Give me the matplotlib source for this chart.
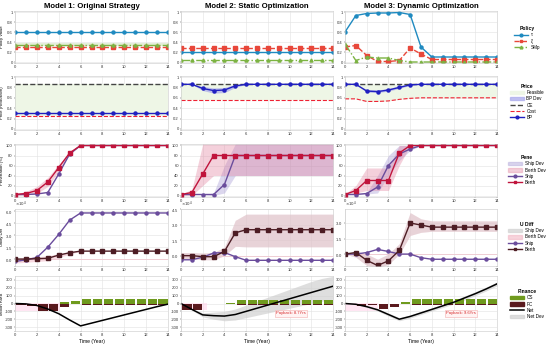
import matplotlib
matplotlib.use('Agg')
import matplotlib.pyplot as plt
import numpy as np
from matplotlib.lines import Line2D
from matplotlib.patches import Patch
from matplotlib.ticker import ScalarFormatter, FixedLocator, MaxNLocator

plt.rcParams['font.family'] = ['Liberation Sans', 'DejaVu Sans']
plt.rcParams['axes.unicode_minus'] = False

years = list(range(15))
bar_years = list(range(14))
titles = ["Model 1: Original Strategy", "Model 2: Static Optimization", "Model 3: Dynamic Optimization"]
row_ylabels = ["Policy Value", "Price (RMB/kWh)", "Penetration (%)", "Utility Diff", "Million RMB"]
x_label = "Time (Year)"

# ---------------- Row 1: policy values ----------------
tau_m1 = [0.6] * 15
xi_m1 = [0.3] * 15
smp_m1 = [0.35] * 15
tau_m2 = [0.2] * 15
xi_m2 = [0.28] * 15
smp_m2 = [0.05] * 15
tau_m3 = [0.6, 0.93, 0.97, 0.98, 0.98, 0.99, 0.95, 0.3, 0.1, 0.1, 0.1, 0.1, 0.1, 0.1, 0.1]
xi_m3 = [0.3, 0.33, 0.13, 0.01, 0.01, 0.03, 0.28, 0.16, 0.05, 0.05, 0.05, 0.05, 0.05, 0.05, 0.05]
smp_m3 = [0.36, 0.03, 0.1, 0.08, 0.08, 0.03, 0.0, 0.0, 0.0, 0.0, 0.0, 0.0, 0.0, 0.0, 0.0]

# ---------------- Row 2: price ----------------
ce_price = [0.87] * 15
bp_m1 = [0.3] * 15
cost_m1 = [0.25] * 15
bp_m2 = [0.86, 0.86, 0.78, 0.74, 0.75, 0.83, 0.86, 0.86, 0.86, 0.86, 0.86, 0.86, 0.86, 0.86, 0.86]
bp_lo_m2 = [0.86, 0.86, 0.74, 0.69, 0.70, 0.80, 0.86, 0.86, 0.86, 0.86, 0.86, 0.86, 0.86, 0.86, 0.86]
bp_hi_m2 = [0.86, 0.86, 0.82, 0.79, 0.80, 0.86, 0.86, 0.86, 0.86, 0.86, 0.86, 0.86, 0.86, 0.86, 0.86]
cost_m2 = [0.55] * 15
bp_m3 = [0.86, 0.86, 0.73, 0.72, 0.75, 0.80, 0.85, 0.86, 0.86, 0.86, 0.86, 0.86, 0.86, 0.86, 0.86]
bp_lo_m3 = [0.86, 0.86, 0.71, 0.70, 0.73, 0.78, 0.84, 0.86, 0.86, 0.86, 0.86, 0.86, 0.86, 0.86, 0.86]
bp_hi_m3 = [0.86, 0.86, 0.76, 0.75, 0.78, 0.83, 0.86, 0.86, 0.86, 0.86, 0.86, 0.86, 0.86, 0.86, 0.86]
cost_m3 = [0.58, 0.58, 0.53, 0.53, 0.54, 0.57, 0.59, 0.6, 0.6, 0.6, 0.6, 0.6, 0.6, 0.6, 0.6]

# ---------------- Row 3: penetration (%) ----------------
ship_pen_m1 = [2, 2, 3, 6, 43, 83, 100, 100, 100, 100, 100, 100, 100, 100, 100]
berth_pen_m1 = [2, 4, 10, 27, 56, 85, 100, 100, 100, 100, 100, 100, 100, 100, 100]
berth_lo_m1 = [0, 1, 4, 18, 48, 82, 100, 100, 100, 100, 100, 100, 100, 100, 100]
berth_hi_m1 = [3, 8, 18, 36, 62, 88, 100, 100, 100, 100, 100, 100, 100, 100, 100]
ship_pen_m2 = [2, 2, 2, 2, 22, 80, 80, 80, 80, 80, 80, 80, 80, 80, 80]
ship_lo_m2 = [2, 2, 2, 0, 5, 40, 40, 40, 40, 40, 40, 40, 40, 40, 40]
ship_hi_m2 = [2, 2, 2, 5, 60, 103, 103, 103, 103, 103, 103, 103, 103, 103, 103]
berth_pen_m2 = [2, 6, 43, 80, 80, 80, 80, 80, 80, 80, 80, 80, 80, 80, 80]
berth_lo_m2 = [0, 0, 20, 40, 40, 40, 40, 40, 40, 40, 40, 40, 40, 40, 40]
berth_hi_m2 = [3, 12, 103, 103, 103, 103, 103, 103, 103, 103, 103, 103, 103, 103, 103]
ship_pen_m3 = [2, 2, 4, 17, 60, 83, 93, 100, 100, 100, 100, 100, 100, 100, 100]
ship_lo_m3 = [2, 2, 3, 5, 40, 70, 90, 100, 100, 100, 100, 100, 100, 100, 100]
ship_hi_m3 = [2, 2, 6, 40, 80, 100, 100, 100, 100, 100, 100, 100, 100, 100, 100]
berth_pen_m3 = [2, 10, 30, 30, 30, 85, 100, 100, 100, 100, 100, 100, 100, 100, 100]
berth_lo_m3 = [1, 5, 10, 10, 10, 60, 100, 100, 100, 100, 100, 100, 100, 100, 100]
berth_hi_m3 = [3, 20, 55, 55, 55, 100, 100, 100, 100, 100, 100, 100, 100, 100, 100]

# ---------------- Row 4: utility difference (x10^4) ----------------
u_scale = 1e4
ship_u_m1 = [-0.3, -0.1, 0.2, 1.5, 3.1, 4.9, 5.8, 5.8, 5.8, 5.8, 5.8, 5.8, 5.8, 5.8, 5.8]
berth_u_m1 = [0.0, 0.0, 0.05, 0.1, 0.5, 0.8, 1.0, 1.0, 1.0, 1.0, 1.0, 1.0, 1.0, 1.0, 1.0]
berth_u_lo_m1 = [-0.5, -0.4, -0.3, -0.2, 0.2, 0.6, 1.0, 1.0, 1.0, 1.0, 1.0, 1.0, 1.0, 1.0, 1.0]
berth_u_hi_m1 = [0.1, 0.2, 0.3, 0.4, 0.7, 0.9, 1.0, 1.0, 1.0, 1.0, 1.0, 1.0, 1.0, 1.0, 1.0]
ship_u_m2 = [-0.4, -0.4, -0.15, 0.25, 0.3, -0.1, -0.45, -0.45, -0.45, -0.45, -0.45, -0.45, -0.45, -0.45, -0.45]
berth_u_m2 = [0.0, 0.0, -0.1, -0.1, 0.4, 2.2, 2.5, 2.5, 2.5, 2.5, 2.5, 2.5, 2.5, 2.5, 2.5]
berth_u_lo_m2 = [-0.3, -0.3, -0.4, -0.4, 0.0, 0.9, 0.85, 0.85, 0.85, 0.85, 0.85, 0.85, 0.85, 0.85, 0.85]
berth_u_hi_m2 = [0.3, 0.3, 0.25, 0.3, 0.8, 3.4, 4.0, 4.0, 4.0, 4.0, 4.0, 4.0, 4.0, 4.0, 4.0]
ship_u_m3 = [0.0, 0.0, 0.15, 0.45, 0.25, 0.0, 0.0, -0.35, -0.5, -0.5, -0.5, -0.5, -0.5, -0.5, -0.5]
berth_u_m3 = [0.0, 0.15, -0.6, -1.1, -0.65, 0.35, 3.0, 2.8, 2.6, 2.6, 2.6, 2.6, 2.6, 2.6, 2.6]
berth_u_lo_m3 = [0.0, -0.3, -1.1, -1.3, -1.0, 0.0, 1.8, 2.1, 2.2, 2.2, 2.2, 2.2, 2.2, 2.2, 2.2]
berth_u_hi_m3 = [0.0, 0.3, 0.0, -0.5, 0.0, 1.0, 4.0, 3.4, 3.2, 3.2, 3.2, 3.2, 3.2, 3.2, 3.2]
u_ylims = [(-0.87, 6.3), (-1.0, 4.5), (-1.15, 4.35)]

# ---------------- Row 5: finance (million RMB) ----------------
cs_m1 = [0, 0, 0, 0, 20, 37, 58, 58, 58, 58, 58, 58, 58, 58]
fc_m1 = [-15, -35, -95, -95, -50, -12, -17, -17, -17, -17, -17, -17, -17, -17]
net_m1 = [0, -5, -25, -70, -130, -210, -285, -250, -215, -180, -145, -110, -75, -40, -8]
cs_m2 = [0, 0, 0, 0, 12, 50, 50, 50, 50, 50, 50, 50, 50, 50]
fc_m2 = [-85, -85, -5, -5, -3, -15, -15, -15, -15, -15, -15, -15, -15, -15]
net_m2 = [0, -75, -145, -155, -160, -140, -100, -60, -20, 20, 60, 100, 140, 180, 220]
net_lo_m2 = [0, -85, -170, -200, -220, -210, -180, -150, -120, -90, -60, -30, 0, 30, 55]
net_hi_m2 = [0, -65, -120, -110, -100, -70, -20, 30, 80, 130, 180, 230, 280, 320, 345]
cs_m3 = [0, 0, 0, 0, 0, 18, 54, 54, 54, 54, 54, 54, 54, 54]
fc_m3 = [-5, -30, -25, -70, -50, -8, -15, -15, -15, -15, -15, -15, -15, -15]
net_m3 = [0, -10, -40, -80, -140, -200, -165, -120, -75, -30, 15, 70, 125, 185, 250]
net_lo_m3 = [0, -15, -50, -95, -160, -220, -185, -140, -95, -52, -8, 45, 100, 160, 225]
net_hi_m3 = [0, -5, -30, -65, -120, -180, -145, -100, -55, -8, 38, 95, 150, 210, 275]
payback_labels = [None, "Payback: 8.7Yrs", "Payback: 9.6Yrs"]

# ---------------- layout ----------------
W, H = 550, 345
fig = plt.figure(figsize=(5.5, 3.45), dpi=100)
cols = [(15, 168), (181, 333), (345, 497)]
rows = [(11, 63), (76, 130), (144, 197), (209, 266), (276, 331)]

tau_c, xi_c, smp_c = '#1f8ac0', '#e8473a', '#7cb342'
bp_c, ce_c, cost_c = '#2020c0', '#444444', '#ee2233'
feas_c, bpdev_c = '#eef6e6', '#a8a8ec'
ship_c, berth_c3, berth_c4 = '#6a4c9c', '#c0143c', '#4d1d24'
shipdev_c, berthdev_c = '#9b8fd0', '#e07a98'
udev_ship_c, udev_berth_c = '#cccccc', '#f2b8c6'
cs_c, fc_c, netdev_c = '#6f9a1e', '#5a1a1e', '#d0d0d0'
FS = 3.0
YL_X = -0.072


def add_ax(r, c):
    x0, x1 = cols[c]
    y0, y1 = rows[r]
    ax = fig.add_axes([x0 / W, 1 - y1 / H, (x1 - x0) / W, (y1 - y0) / H])
    ax.set_xlim(0, 14)
    ax.set_xticks(range(0, 15, 2))
    ax.grid(True, color='#e2e2e2', lw=0.4)
    ax.set_axisbelow(True)
    ax.tick_params(labelsize=FS, length=1.0, width=0.3, pad=0.6, colors='#333333')
    for s in ax.spines.values():
        s.set_color('#c8c8c8')
        s.set_linewidth(0.4)
    return ax


def set_ylab(ax, text):
    ax.set_ylabel(text, fontsize=3.1)
    ax.yaxis.set_label_coords(YL_X, 0.5)


def frac_labels(ax):
    ax.set_ylim(-0.02, 1.02)
    ax.yaxis.set_major_locator(FixedLocator([0, 0.2, 0.4, 0.6, 0.8, 1.0]))
    ax.set_yticklabels(['0', '0.2', '0.4', '0.6', '0.8', '1'])


mk = dict(markersize=2.2, lw=1.0)

# Row 1
pol = [(tau_m1, xi_m1, smp_m1), (tau_m2, xi_m2, smp_m2), (tau_m3, xi_m3, smp_m3)]
for c, (tau, xi, smp) in enumerate(pol):
    ax = add_ax(0, c)
    if c == 0:
        ax.fill_between(years, np.array(smp) - 0.03, np.array(smp) + 0.03, color=smp_c, alpha=0.2, lw=0)
    ax.plot(years, tau, color=tau_c, marker='o', **mk)
    ax.plot(years, xi, color=xi_c, ls='--', marker='s', **mk)
    ax.plot(years, smp, color=smp_c, ls='-.', marker='^', **mk)
    frac_labels(ax)
    ax.set_title(titles[c], fontsize=5.6, fontweight='bold', pad=2)
    if c == 0:
        set_ylab(ax, row_ylabels[0])

# Row 2
pr = [(bp_m1, None, None, cost_m1), (bp_m2, bp_lo_m2, bp_hi_m2, cost_m2), (bp_m3, bp_lo_m3, bp_hi_m3, cost_m3)]
for c, (bp, lo, hi, cost) in enumerate(pr):
    ax = add_ax(1, c)
    ax.fill_between(years, cost, ce_price, color=feas_c, lw=0)
    if lo is not None:
        ax.fill_between(years, lo, hi, color=bpdev_c, alpha=0.7, lw=0)
    ax.plot(years, ce_price, color=ce_c, ls='--', lw=1.0)
    ax.plot(years, cost, color=cost_c, ls='--', lw=0.8)
    ax.plot(years, bp, color=bp_c, marker='o', **mk)
    frac_labels(ax)
    if c == 0:
        set_ylab(ax, row_ylabels[1])

# Row 3
pen = [(ship_pen_m1, None, None, berth_pen_m1, berth_lo_m1, berth_hi_m1),
       (ship_pen_m2, ship_lo_m2, ship_hi_m2, berth_pen_m2, berth_lo_m2, berth_hi_m2),
       (ship_pen_m3, ship_lo_m3, ship_hi_m3, berth_pen_m3, berth_lo_m3, berth_hi_m3)]
for c, (sp, slo, shi, bpn, blo, bhi) in enumerate(pen):
    ax = add_ax(2, c)
    if slo is not None:
        ax.fill_between(years, slo, shi, color=shipdev_c, alpha=0.35, lw=0)
    ax.fill_between(years, blo, bhi, color=berthdev_c, alpha=0.35, lw=0)
    ax.plot(years, sp, color=ship_c, marker='o', **mk)
    ax.plot(years, bpn, color=berth_c3, marker='s', **mk)
    ax.set_ylim(-3, 103)
    ax.set_yticks(range(0, 101, 20))
    if c == 0:
        set_ylab(ax, row_ylabels[2])

# Row 4
ud = [(ship_u_m1, berth_u_m1, berth_u_lo_m1, berth_u_hi_m1),
      (ship_u_m2, berth_u_m2, berth_u_lo_m2, berth_u_hi_m2),
      (ship_u_m3, berth_u_m3, berth_u_lo_m3, berth_u_hi_m3)]
for c, (su, bu, blo, bhi) in enumerate(ud):
    ax = add_ax(3, c)
    su_v = np.array(su) * u_scale
    bu_v = np.array(bu) * u_scale
    lo_v = np.array(blo) * u_scale
    hi_v = np.array(bhi) * u_scale
    ax.fill_between(years, lo_v, hi_v, color=udev_berth_c, alpha=0.55, lw=0)
    if c > 0:
        ax.fill_between(years, lo_v, hi_v, color=udev_ship_c, alpha=0.35, lw=0)
    ax.axhline(0, color='#f0c8d0', lw=0.6)
    ax.plot(years, su_v, color=ship_c, marker='o', **mk)
    ax.plot(years, bu_v, color=berth_c4, marker='s', **mk)
    lo, hi = u_ylims[c]
    ax.set_ylim(lo * u_scale, hi * u_scale)
    ax.yaxis.set_major_locator(MaxNLocator(5))
    fmt = ScalarFormatter(useMathText=True)
    fmt.set_powerlimits((0, 0))
    ax.yaxis.set_major_formatter(fmt)
    ax.yaxis.get_offset_text().set_visible(False)
    ax.text(0.0, 1.005, r'$\times10^{4}$', transform=ax.transAxes, fontsize=2.9,
            ha='left', va='bottom', color='#333333')
    if c == 0:
        set_ylab(ax, row_ylabels[3])

# Row 5
fin = [(cs_m1, fc_m1, net_m1, None, None, (0, 4.1, -90)),
       (cs_m2, fc_m2, net_m2, net_lo_m2, net_hi_m2, (0, 2.4, -80)),
       (cs_m3, fc_m3, net_m3, net_lo_m3, net_hi_m3, (0, 3.0, -90))]
for c, (cs, fc, net, nlo, nhi, pink) in enumerate(fin):
    ax = add_ax(4, c)
    ax.fill_between([pink[0], pink[1]], [0, 0], [pink[2], pink[2]], color='#ffd6ec', alpha=0.6, lw=0)
    if nlo is not None:
        ax.fill_between(years, nlo, nhi, color=netdev_c, alpha=0.7, lw=0)
    bx = np.array(bar_years) + 0.55
    ax.bar(bx, cs, width=0.85, color=cs_c, lw=0)
    ax.bar(bx, fc, width=0.85, color=fc_c, lw=0)
    ax.plot(years, net, color='black', lw=1.1)
    ax.set_ylim(-350, 350)
    ax.set_yticks(range(-300, 301, 100))
    ax.set_xlabel(x_label, fontsize=3.6, labelpad=1)
    if payback_labels[c]:
        xt = 10.1 if c == 1 else 10.7
        ax.text(xt, -125, payback_labels[c], fontsize=3.0, color='#d62728', ha='center', va='center',
                bbox=dict(boxstyle='square,pad=0.3', fc='#fff3f3', ec='#f3b0b0', lw=0.4))
    if c == 0:
        set_ylab(ax, row_ylabels[4])

# Legends
leg_kw = dict(fontsize=3.3, title_fontsize=3.6, frameon=False, loc='center',
              handlelength=3.0, labelspacing=0.25, handletextpad=0.6, borderpad=0.2)


def add_leg(handles, title, ycenter):
    lg = fig.legend(handles=handles, title=title, bbox_to_anchor=(527 / W, 1 - ycenter / H), **leg_kw)
    lg.get_title().set_fontweight('bold')


add_leg([Line2D([], [], color=tau_c, marker='o', markersize=2, lw=1, label='τ'),
         Line2D([], [], color=xi_c, ls='--', marker='s', markersize=2, lw=1, label='ξ'),
         Line2D([], [], color=smp_c, ls='-.', marker='^', markersize=2, lw=1, label='SMp')],
        'Policy', 38)
add_leg([Patch(color=feas_c, label='Feasible'),
         Patch(color=bpdev_c, alpha=0.7, label='BP Dev'),
         Line2D([], [], color=ce_c, ls='--', lw=1, label='CE'),
         Line2D([], [], color=cost_c, ls='--', lw=0.8, label='Cost'),
         Line2D([], [], color=bp_c, marker='o', markersize=2, lw=1, label='BP')],
        'Price', 102)
add_leg([Patch(color=shipdev_c, alpha=0.35, label='Ship Dev'),
         Patch(color=berthdev_c, alpha=0.35, label='Berth Dev'),
         Line2D([], [], color=ship_c, marker='o', markersize=2, lw=1, label='Ship'),
         Line2D([], [], color=berth_c3, marker='s', markersize=2, lw=1, label='Berth')],
        'Pene', 170)
add_leg([Patch(color=udev_ship_c, alpha=0.6, label='Ship Dev'),
         Patch(color=udev_berth_c, alpha=0.6, label='Berth Dev'),
         Line2D([], [], color=ship_c, marker='o', markersize=2, lw=1, label='Ship'),
         Line2D([], [], color=berth_c4, marker='s', markersize=2, lw=1, label='Berth')],
        'U Diff', 237)
add_leg([Patch(color=cs_c, label='CS'),
         Patch(color=fc_c, label='FC'),
         Line2D([], [], color='black', lw=1.1, label='Net'),
         Patch(color=netdev_c, alpha=0.7, label='Net Dev')],
        'Finance', 304)

fig.savefig('out.png', dpi=100)
